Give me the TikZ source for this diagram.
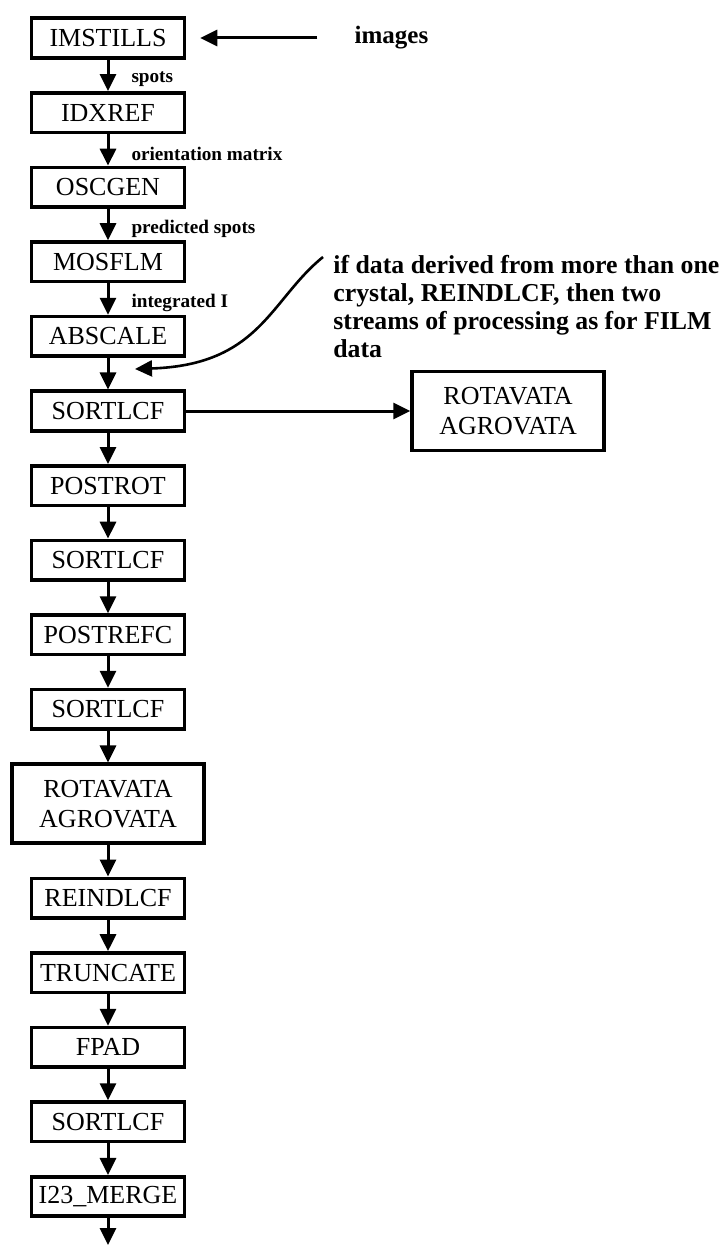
\documentclass[tikz,border=0pt]{standalone}
\usepackage{fontspec}
\setmainfont{Liberation Serif}
\usetikzlibrary{arrows.meta, positioning}
\tikzset{
  box/.style = {
    rectangle, draw=black, line width=1.8pt, fill=white,
    minimum width=76.5pt, minimum height=19.75pt, inner sep=1.5pt,
    font=\fontsize{13}{14}\selectfont
  },
  bigbox/.style = {
    box, minimum width=96pt, minimum height=39.5pt, align=center,
    font=\fontsize{13}{15}\selectfont
  },
  lbl/.style = {
    anchor=west, inner sep=0pt, xshift=11pt, yshift=-2pt,
    font=\fontsize{9.6}{11}\selectfont\bfseries
  },
  note/.style = {
    anchor=north west, align=left, inner sep=0pt,
    font=\fontsize{12.9}{14}\selectfont\bfseries
  },
  arr/.style = {-{Triangle[length=8.5pt,width=8pt]}, line width=1.5pt, black}
}
\begin{document}
\begin{tikzpicture}[node distance=15.75pt]
\useasboundingbox (0,0) rectangle (362pt,-623pt);

%% main column
\node[box] (ims) at (54pt,-19pt) {IMSTILLS};
\node[box, below=of ims]  (idx)  {IDXREF};
\node[box, below=of idx]  (osc)  {OSCGEN};
\node[box, below=of osc]  (mos)  {MOSFLM};
\node[box, below=of mos]  (absc) {ABSCALE};
\node[box, below=of absc] (srt1) {SORTLCF};
\node[box, below=of srt1] (post) {POSTROT};
\node[box, below=of post] (srt2) {SORTLCF};
\node[box, below=of srt2] (pref) {POSTREFC};
\node[box, below=of pref] (srt3) {SORTLCF};
\node[bigbox, below=of srt3] (rota) {ROTAVATA\\AGROVATA};
\node[box, below=of rota] (rein) {REINDLCF};
\node[box, below=of rein] (trun) {TRUNCATE};
\node[box, below=of trun] (fpad) {FPAD};
\node[box, below=of fpad] (srt4) {SORTLCF};
\node[box, below=of srt4] (merge) {I23\_MERGE};
\coordinate (outend) at (merge.south |- 0,-622.5pt);

%% labelled arrows
\draw[arr] (ims.south) -- (idx.north) node[lbl, midway] (lspots) {spots};
\draw[arr] (idx.south) -- (osc.north) node[lbl, midway] (lorient) {orientation matrix};
\draw[arr] (osc.south) -- (mos.north) node[lbl, midway] (lpred) {predicted spots};
\draw[arr] (mos.south) -- (absc.north) node[lbl, midway] (lint) {integrated I};

%% plain arrows
\foreach \x/\y in {absc/srt1, srt1/post, post/srt2, srt2/pref, pref/srt3,
                   srt3/rota, rota/rein, rein/trun, trun/fpad, fpad/srt4, srt4/merge}
  \draw[arr] (\x.south) -- (\y.north);
\draw[arr] (merge.south) -- (outend);

%% input
\node[right=84pt of ims, inner sep=0pt, font=\fontsize{12.5}{14}\selectfont\bfseries]
      (imgs) {images};
\draw[arr, shorten <=18.5pt, shorten >=7pt] (imgs.west) -- (ims.east);

%% side branch
\node[bigbox, right=112pt of srt1] (rrota) {ROTAVATA\\AGROVATA};
\draw[arr] (srt1.east) -- (rrota.west);

%% note with curved pointer
\node[note] (notetxt) at (166.5pt,-127.5pt)
      {if data derived from more than one\\
       crystal, REINDLCF, then two\\
       streams of processing as for FILM\\
       data};
\coordinate (cstart) at ([xshift=-5pt,yshift=-1pt]notetxt.north west);
\coordinate (ctip) at (67.5pt,-184.5pt);
\draw[arr, line width=1.3pt] (cstart) .. controls (135pt,-150pt) and (130pt,-182.5pt) .. (ctip);

\end{tikzpicture}
\end{document}
